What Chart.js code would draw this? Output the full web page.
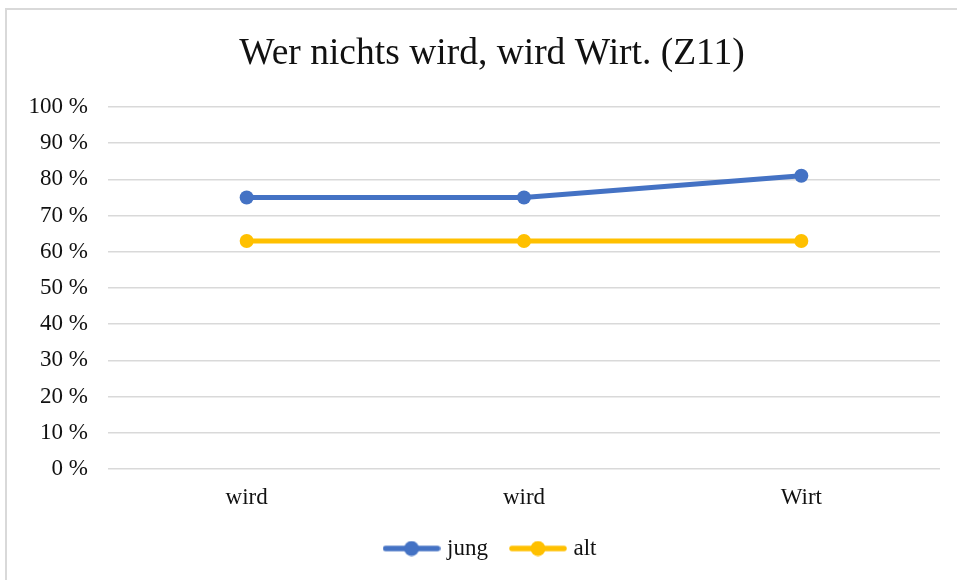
<!DOCTYPE html>
<html>
<head>
<meta charset="utf-8">
<script src="https://cdn.jsdelivr.net/npm/chart.js@4"></script>
<style>
    body { margin: 0; background: #fff; overflow: hidden; width: 957px; height: 580px; position: relative; }
    #frame { position: absolute; left: 5px; top: 8px; width: 1000px; height: 620px; border: 2px solid #d9d9d9; }
    #chart { position: absolute; left: 0; top: 0; }
</style>
</head>
<body>
<div id="frame"></div>
<canvas id="chart" width="985" height="580"></canvas>
<script>
const categories = ["wird", "wird", "Wirt"]
const jung = [75, 75, 81]
const alt = [63, 63, 63]
const seriesNames = ["jung", "alt"]
const colors = ["#4472C4", "#FFC000"]

const serif = "'Liberation Serif', 'Times New Roman', serif"

// little line + dot marker for the legend
function legendMarker(color) {
    let c = document.createElement('canvas')
    c.width = 58
    c.height = 16
    let ctx = c.getContext('2d')
    ctx.strokeStyle = color
    ctx.lineWidth = 5.5
    ctx.lineCap = 'round'
    ctx.beginPath()
    ctx.moveTo(3, 8)
    ctx.lineTo(55, 8)
    ctx.stroke()
    ctx.fillStyle = color
    ctx.beginPath()
    ctx.arc(29, 8, 7.5, 0, Math.PI * 2)
    ctx.fill()
    return c
}

const markers = colors.map(legendMarker)

// title and legend are centred on the whole frame, not on the plot
const shiftBlocks = {
    id: 'shiftBlocks',
    afterLayout: function (chart) {
        chart.titleBlock.left = 44
        chart.legend.left = 44
    }
}

new Chart(document.getElementById('chart'), {
    type: 'line',
    data: {
        labels: categories,
        datasets: [jung, alt].map((values, i) => ({
            label: seriesNames[i],
            data: values,
            borderColor: colors[i],
            backgroundColor: colors[i],
            pointBackgroundColor: colors[i],
            pointBorderColor: colors[i],
            borderWidth: 5,
            pointRadius: 7,
            pointBorderWidth: 0,
            fill: false,
            tension: 0
        }))
    },
    plugins: [shiftBlocks],
    options: {
        responsive: false,
        animation: false,
        layout: { padding: { top: 8, right: 45, bottom: 10, left: 0 } },
        plugins: {
            title: {
                display: true,
                text: "Wer nichts wird, wird Wirt. (Z11)",
                color: '#111',
                font: { family: serif, size: 37.5, weight: 'normal', lineHeight: 1.2 },
                padding: { top: 24, bottom: 30 }
            },
            legend: {
                position: 'bottom',
                labels: {
                    color: '#111',
                    font: { family: serif, size: 23 },
                    usePointStyle: true,
                    pointStyleWidth: 48,
                    padding: 26,
                    generateLabels: function (chart) {
                        return chart.data.datasets.map((ds, i) => ({
                            text: ds.label,
                            pointStyle: markers[i],
                            fillStyle: colors[i],
                            strokeStyle: colors[i],
                            lineWidth: 0,
                            hidden: false,
                            datasetIndex: i,
                            fontColor: '#111'
                        }))
                    }
                }
            },
            tooltip: { enabled: false }
        },
        scales: {
            x: {
                offset: true,
                grid: { display: false, drawTicks: false },
                border: { display: false },
                ticks: { color: '#111', font: { family: serif, size: 23 }, padding: 15 },
                afterFit: function (axis) { axis.height = 42 }
            },
            y: {
                min: 0,
                max: 100,
                grid: { color: '#d9d9d9', lineWidth: 1.5, drawTicks: false },
                border: { display: false },
                ticks: {
                    stepSize: 10,
                    color: '#111',
                    font: { family: serif, size: 23 },
                    padding: 20,
                    callback: function (v) { return v + ' %' }
                },
                afterFit: function (axis) { axis.width = 108 }
            }
        }
    }
})
</script>
</body>
</html>
